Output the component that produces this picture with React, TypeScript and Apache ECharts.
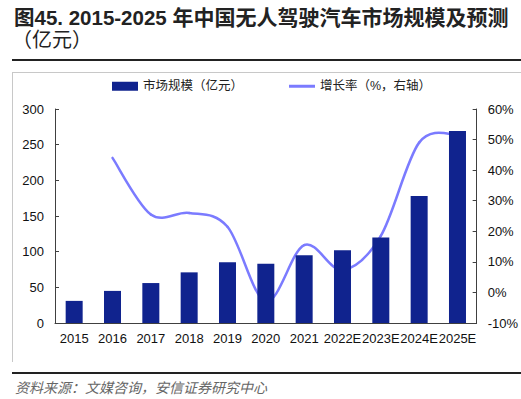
import React, { useEffect, useRef } from "react";
import * as echarts from "echarts";

const categories = ["2015", "2016", "2017", "2018", "2019", "2020", "2021", "2022E", "2023E", "2024E", "2025E"];
const marketSize = [31, 45, 56, 71, 85, 83, 95, 102, 120, 178, 269];
const growthRate: (number | null)[] = [null, 44, 25.5, 26, 21.5, -3, 15.5, 7.3, 18.5, 49, 51.6];
const leftTicks = { min: 0, max: 300, interval: 50 };
const rightTicks = { min: -10, max: 60, interval: 10 };

const titleNum = "图45. 2015-2025";
const titleCjk = " 年中国无人驾驶汽车市场规模及预测";
const titleLine2 = "（亿元）";
const sourceText = "资料来源：文媒咨询，安信证券研究中心";
const barName = "市场规模（亿元）";
const lineName = "增长率（%，右轴）";

const FONT = '"Liberation Sans", Arial, "Noto Sans CJK SC", sans-serif';
const LINE_COLOR = "#7b7bff";

export default function App() {
  const ref = useRef<HTMLDivElement>(null);
  useEffect(() => {
    if (!ref.current) return;
    const chart = echarts.init(ref.current, null, { renderer: "svg" });

    const validIdx = (k: number) => k >= 0 && k < growthRate.length && growthRate[k] != null;

    chart.setOption({
      animation: false,
      backgroundColor: "#fff",
      textStyle: { fontFamily: FONT },
      graphic: [
        {
          type: "text",
          left: 14,
          top: 7,
          style: {
            text: `{b|${titleNum}}{c|${titleCjk}}`,
            fill: "#222",
            fontFamily: FONT,
            rich: {
              b: { fontSize: 20.5, fontWeight: "bold", fill: "#222", fontFamily: FONT },
              c: { fontSize: 21, fontWeight: "bold", fill: "#222", fontFamily: FONT },
            },
          },
        },
        { type: "text", left: 12, top: 30, style: { text: titleLine2, fontSize: 20, fill: "#222", fontFamily: FONT } },
        { type: "line", shape: { x1: 12, y1: 60, x2: 521, y2: 60 }, style: { stroke: "#222", lineWidth: 2 } },
        { type: "line", shape: { x1: 12, y1: 72.5, x2: 521, y2: 72.5 }, style: { stroke: "#c8c8c8", lineWidth: 1 } },
        { type: "line", shape: { x1: 12.5, y1: 72, x2: 12.5, y2: 362 }, style: { stroke: "#c8c8c8", lineWidth: 1 } },
        { type: "line", shape: { x1: 12, y1: 373, x2: 521, y2: 373 }, style: { stroke: "#222", lineWidth: 2 } },
        { type: "text", left: 15, top: 381, style: { text: sourceText, fontSize: 14, fontStyle: "italic", fill: "#666", fontFamily: FONT } },
      ],
      legend: {
        left: 107,
        top: 75,
        itemGap: 46,
        itemWidth: 26,
        itemHeight: 9,
        textStyle: { fontSize: 12.5, color: "#222", fontFamily: FONT },
        data: [
          { name: barName, icon: "rect" },
          { name: lineName, icon: "path://M0,0L26,0L26,3L0,3Z" },
        ],
      },
      grid: { left: 55, right: 41, top: 109, bottom: 76 },
      xAxis: {
        type: "category",
        data: categories,
        axisLine: { lineStyle: { color: "#404040" } },
        axisTick: { inside: true, length: 5, lineStyle: { color: "#404040" } },
        axisLabel: { color: "#111", fontSize: 13, margin: 9, interval: 0 },
      },
      yAxis: [
        {
          type: "value",
          ...leftTicks,
          axisLine: { show: true, lineStyle: { color: "#404040" } },
          axisTick: { show: true, inside: true, length: 4, lineStyle: { color: "#404040" } },
          axisLabel: { color: "#111", fontSize: 13, margin: 11 },
          splitLine: { show: false },
        },
        {
          type: "value",
          ...rightTicks,
          position: "right",
          axisLine: { show: true, lineStyle: { color: "#404040" } },
          axisTick: { show: true, inside: true, length: 4, lineStyle: { color: "#404040" } },
          axisLabel: { color: "#111", fontSize: 13, margin: 11, formatter: "{value}%" },
          splitLine: { show: false },
        },
      ],
      series: [
        {
          name: barName,
          type: "bar",
          data: marketSize,
          barWidth: 17,
          itemStyle: { color: "#10238e" },
        },
        {
          name: lineName,
          type: "custom",
          yAxisIndex: 1,
          clip: false,
          itemStyle: { color: LINE_COLOR },
          data: growthRate.map((v, i) => [i, v == null ? "-" : v]),
          encode: { x: 0, y: 1 },
          renderItem: (params: any, api: any) => {
            const i = params.dataIndex;
            if (!validIdx(i) || !validIdx(i + 1)) return null;
            const pt = (k: number) => api.coord([k, growthRate[k]]);
            const p1 = pt(i);
            const p2 = pt(i + 1);
            const p0 = validIdx(i - 1) ? pt(i - 1) : p1;
            const p3 = validIdx(i + 2) ? pt(i + 2) : p2;
            return {
              type: "bezierCurve",
              shape: {
                x1: p1[0],
                y1: p1[1],
                x2: p2[0],
                y2: p2[1],
                cpx1: p1[0] + (p2[0] - p0[0]) / 6,
                cpy1: p1[1] + (p2[1] - p0[1]) / 6,
                cpx2: p2[0] - (p3[0] - p1[0]) / 6,
                cpy2: p2[1] - (p3[1] - p1[1]) / 6,
              },
              style: { stroke: LINE_COLOR, lineWidth: 2.5, fill: "none", lineCap: "round" },
            };
          },
        },
      ],
    });
    return () => chart.dispose();
  }, []);
  return <div ref={ref} style={{ position: "fixed", left: 0, top: 0, width: 521, height: 399 }} />;
}
